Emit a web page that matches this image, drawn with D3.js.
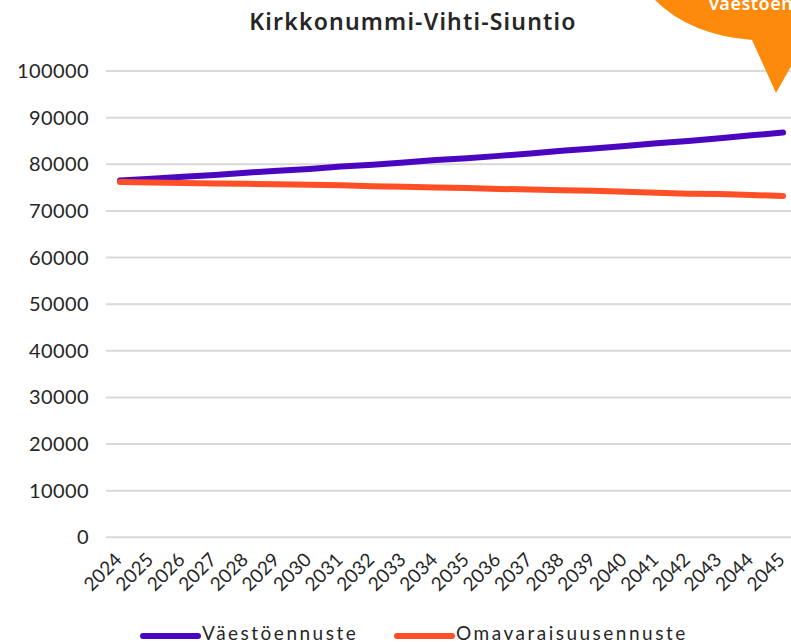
<!DOCTYPE html>
<html>
<head>
<meta charset="utf-8">
<title>Kirkkonummi-Vihti-Siuntio</title>
<script src="https://d3js.org/d3.v7.min.js"></script>
<style>
  body { margin: 0; background: #fff; }
  text { font-family: Lato, "Noto Sans", sans-serif; fill: #262626; }
</style>
</head>
<body>
<svg width="791" height="642"></svg>
<script>
// data
const years = ["2024","2025","2026","2027","2028","2029","2030","2031","2032","2033","2034",
               "2035","2036","2037","2038","2039","2040","2041","2042","2043","2044","2045"];
const vaesto = [76500, 76900, 77300, 77700, 78200, 78600, 79000, 79500, 79900, 80400, 80900,
                81300, 81800, 82300, 82900, 83400, 83900, 84500, 85000, 85600, 86200, 86800];
const omavarais = [76200, 76100, 76000, 75900, 75800, 75700, 75600, 75500, 75300, 75200, 75000,
                   74900, 74700, 74600, 74400, 74300, 74100, 73900, 73700, 73600, 73400, 73200];
const yTicks = [0, 10000, 20000, 30000, 40000, 50000, 60000, 70000, 80000, 90000, 100000];
const seriesNames = ["Väestöennuste", "Omavaraisuusennuste"];
const bubbleText = "väestöen";

const colors = ["#4b07bf", "#ff4f27"];

const svg = d3.select("svg");

const x = d3.scalePoint().domain(years).range([120, 783]);
const y = d3.scaleLinear().domain([0, 100000]).range([537.3, 71]);

// gridlines
svg.append("g").selectAll("line")
  .data(yTicks)
  .join("line")
  .attr("x1", 106).attr("x2", 791)
  .attr("y1", d => y(d)).attr("y2", d => y(d))
  .attr("stroke", "#d9d9d9")
  .attr("stroke-width", 2);

// y labels
svg.append("g").selectAll("text")
  .data(yTicks)
  .join("text")
  .attr("x", 89)
  .attr("y", d => y(d) + 7)
  .attr("text-anchor", "end")
  .attr("font-size", 20)
  .attr("letter-spacing", 0.4)
  .text(d => d);

// x labels
svg.append("g").selectAll("text")
  .data(years)
  .join("text")
  .attr("text-anchor", "end")
  .attr("font-size", 19)
  .attr("transform", d => `translate(${x(d) + 3},561) rotate(-45)`)
  .text(d => d);

// lines
const line = d3.line()
  .x((d, i) => x(years[i]))
  .y(d => y(d));

[vaesto, omavarais].forEach((s, k) => {
  svg.append("path")
    .datum(s)
    .attr("fill", "none")
    .attr("stroke", colors[k])
    .attr("stroke-width", 6)
    .attr("stroke-linecap", "round")
    .attr("stroke-linejoin", "round")
    .attr("d", line);
});

// title
svg.append("text")
  .attr("x", 413)
  .attr("y", 30)
  .attr("text-anchor", "middle")
  .attr("font-size", 23)
  .attr("font-weight", 600)
  .attr("letter-spacing", 1.2)
  .style("font-family", "'Noto Sans', sans-serif")
  .text("Kirkkonummi-Vihti-Siuntio");

// speech bubble (cropped at the corner)
svg.append("path")
  .attr("d", "M655,0 Q690,35 752,40 L776,93 L800,50 L800,0 Z")
  .attr("fill", "#fd8a0b");
svg.append("text")
  .attr("x", 709)
  .attr("y", 10)
  .attr("font-size", 18)
  .attr("font-weight", 600)
  .attr("letter-spacing", 0.5)
  .style("font-family", "'Noto Sans', sans-serif")
  .style("fill", "#fff")
  .text(bubbleText);

// legend
const legX = [143, 397];
seriesNames.forEach((n, k) => {
  svg.append("line")
    .attr("x1", legX[k]).attr("x2", legX[k] + 55)
    .attr("y1", 636).attr("y2", 636)
    .attr("stroke", colors[k])
    .attr("stroke-width", 6)
    .attr("stroke-linecap", "round");
  svg.append("text")
    .attr("x", legX[k] + 59)
    .attr("y", 640)
    .attr("font-size", 19)
    .attr("letter-spacing", 2.5)
    .text(n);
});
</script>
</body>
</html>
